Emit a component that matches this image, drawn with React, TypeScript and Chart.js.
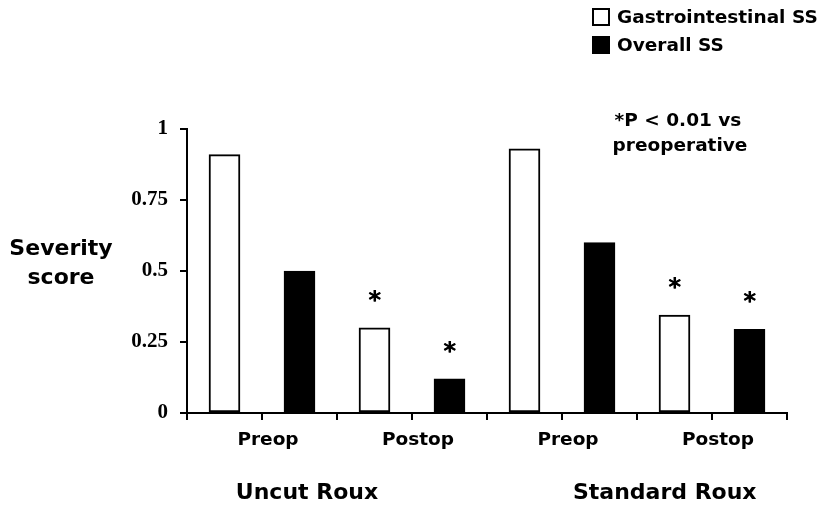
import React, { useEffect, useRef } from 'react';
import { Chart, registerables } from 'chart.js';

Chart.register(...registerables);

// ---- data ----
const slotLabels = ['Preop', 'Postop', 'Preop', 'Postop'];
const groupLabels = ['Uncut Roux', 'Standard Roux'];
const seriesNames = ['Gastrointestinal SS', 'Overall SS'];
const giSS = [0.91, 0.30, 0.93, 0.345];
const overallSS = [0.50, 0.12, 0.60, 0.295];
const giSig = [false, true, false, true];
const overallSig = [false, true, false, true];
const yTickValues = [0, 0.25, 0.5, 0.75, 1];
const noteLines = ['*P < 0.01 vs', 'preoperative'];
const yTitleLines = ['Severity', 'score'];

// ---- layout constants (positions in x-scale units / pixels) ----
const groupCenters = [1.6, 6.37];
const SANS = '"DejaVu Sans", Arial, sans-serif';

const textPlugin = {
  id: 'customText',
  afterDraw(chart: any) {
    const { ctx, scales } = chart;
    const x = scales.x;
    ctx.save();
    ctx.fillStyle = '#000';
    ctx.strokeStyle = '#000';

    // significance stars
    const flags = [giSig, overallSig];
    ctx.font = `bold 24px ${SANS}`;
    ctx.textAlign = 'center';
    ctx.textBaseline = 'alphabetic';
    chart.data.datasets.forEach((_ds: any, di: number) => {
      const meta = chart.getDatasetMeta(di);
      meta.data.forEach((bar: any, i: number) => {
        if (flags[di][i]) {
          ctx.fillText('*', bar.x, bar.y - 20);
          ctx.fillText('*', bar.x + 0.6, bar.y - 20);
        }
      });
    });

    // y title (horizontal, two lines)
    ctx.font = `bold 22px ${SANS}`;
    ctx.textAlign = 'center';
    ctx.fillText(yTitleLines[0], 61, 255);
    ctx.fillText(yTitleLines[1], 61, 284);

    // note
    ctx.font = `bold 18.5px ${SANS}`;
    ctx.fillText(noteLines[0], 678, 126);
    ctx.fillText(noteLines[1], 680, 151);

    // group labels
    ctx.font = `bold 22px ${SANS}`;
    groupLabels.forEach((g, i) => {
      ctx.fillText(g, x.getPixelForValue(groupCenters[i]), 499);
    });

    // legend
    const rows = [17, 45];
    ctx.font = `bold 18.5px ${SANS}`;
    ctx.textAlign = 'left';
    ctx.textBaseline = 'middle';
    chart.data.datasets.forEach((ds: any, di: number) => {
      const cy = rows[di];
      ctx.fillStyle = ds.backgroundColor;
      ctx.fillRect(593, cy - 8, 16, 16);
      ctx.lineWidth = 2;
      ctx.strokeStyle = '#000';
      ctx.strokeRect(593, cy - 8, 16, 16);
      ctx.fillStyle = '#000';
      ctx.fillText(ds.label, 617, cy + 1);
    });

    ctx.restore();
  },
};

export default function App() {
  const ref = useRef<HTMLCanvasElement | null>(null);

  useEffect(() => {
    if (!ref.current) return;
    const chart = new Chart(ref.current, {
      type: 'bar',
      data: {
        datasets: [
          {
            label: seriesNames[0],
            data: giSS.map((v, i) => ({ x: 2 * i + 0.5, y: v })),
            backgroundColor: '#ffffff',
            borderColor: '#000000',
            borderWidth: 2,
            borderSkipped: false,
            grouped: false,
            barThickness: 31,
          },
          {
            label: seriesNames[1],
            data: overallSS.map((v, i) => ({ x: 2 * i + 1.5, y: v })),
            backgroundColor: '#000000',
            borderColor: '#000000',
            borderWidth: 2,
            borderSkipped: false,
            grouped: false,
            barThickness: 31,
          },
        ],
      },
      options: {
        animation: false,
        responsive: false,
        maintainAspectRatio: false,
        layout: { padding: { left: 0, top: 129, right: 33, bottom: 0 } },
        plugins: {
          legend: { display: false },
          tooltip: { enabled: false },
          title: { display: false },
        },
        scales: {
          x: {
            type: 'linear',
            min: 0,
            max: 8,
            offset: false,
            grid: {
              offset: false,
              drawOnChartArea: false,
              drawTicks: true,
              tickLength: 7,
              color: '#000',
              lineWidth: 2,
            },
            border: { display: true, color: '#000', width: 2 },
            ticks: {
              stepSize: 1,
              autoSkip: false,
              maxRotation: 0,
              padding: 9,
              labelOffset: 6,
              color: '#000',
              font: { family: SANS, weight: 'bold', size: 18.5 },
              callback: (value: any) => {
                const v = Number(value);
                if (Number.isInteger(v) && v % 2 === 1) return slotLabels[(v - 1) / 2];
                return '';
              },
            },
            afterFit: (scale: any) => {
              scale.height = 95;
            },
          },
          y: {
            type: 'linear',
            min: 0,
            max: 1,
            grid: {
              drawOnChartArea: false,
              drawTicks: true,
              tickLength: 7,
              color: '#000',
              lineWidth: 2,
            },
            border: { display: true, color: '#000', width: 2 },
            afterBuildTicks: (scale: any) => {
              scale.ticks = yTickValues.map((v) => ({ value: v }));
            },
            ticks: {
              padding: 12,
              color: '#000',
              font: { family: '"Liberation Serif", "Times New Roman", serif', weight: 'bold', size: 21 },
              callback: (value: any) => String(value),
            },
            afterFit: (scale: any) => {
              scale.width = 187;
            },
          },
        },
      },
      plugins: [textPlugin],
    } as any);
    return () => chart.destroy();
  }, []);

  return (
    <div style={{ position: 'fixed', left: 0, top: 0, width: 820, height: 508, background: '#fff' }}>
      <canvas ref={ref} width={820} height={508} />
    </div>
  );
}
